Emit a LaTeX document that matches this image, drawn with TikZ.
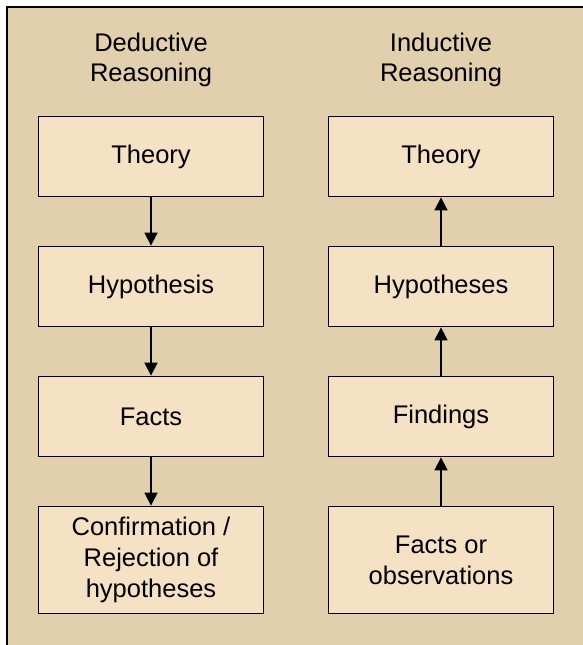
\documentclass[tikz,border=0pt]{standalone}
\usepackage{fontspec}
\setmainfont{Liberation Sans}
\usetikzlibrary{arrows.meta}
\definecolor{bg}{RGB}{225,207,174}
\definecolor{boxfill}{RGB}{245,226,196}
\begin{document}
\begin{tikzpicture}[x=1pt,y=-1pt,
  stepbox/.style={draw=black,line width=1.8pt,fill=boxfill,minimum width=225pt,minimum height=80pt,inner sep=0pt,align=center,font=\fontsize{25.5}{31}\selectfont},
  title/.style={align=center,font=\fontsize{25.5}{30}\selectfont},
  conn/.style={line width=1.6pt,-{Triangle[length=13pt,width=13pt]}}]
\useasboundingbox (0,0) rectangle (582,645);
\fill[bg] (7,7) rectangle (590,650);
\draw[line width=2pt] (7,650) -- (7,7) -- (590,7);
\node[title] (tl) at (151,59.5) {Deductive\\Reasoning};
\node[title] (tr) at (441,59.5) {Inductive\\Reasoning};
\node[stepbox] (l1) at (151,156.5) {Theory};
\node[stepbox] (l2) at (151,286.5) {Hypothesis};
\node[stepbox] (l3) at (151,416.5) {Facts};
\node[stepbox,minimum height=107pt] (l4) at (151,560) {Confirmation /\\Rejection of\\hypotheses};
\node[stepbox] (r1) at (441,156.5) {Theory};
\node[stepbox] (r2) at (441,286.5) {Hypotheses};
\node[stepbox] (r3) at (441,416.5) {Findings};
\node[stepbox,minimum height=107pt] (r4) at (441,560) {Facts or\\observations};
\draw[conn] (l1) -- (l2);
\draw[conn] (l2) -- (l3);
\draw[conn] (l3) -- (l4);
\draw[conn] (r4) -- (r3);
\draw[conn] (r3) -- (r2);
\draw[conn] (r2) -- (r1);
\end{tikzpicture}
\end{document}
